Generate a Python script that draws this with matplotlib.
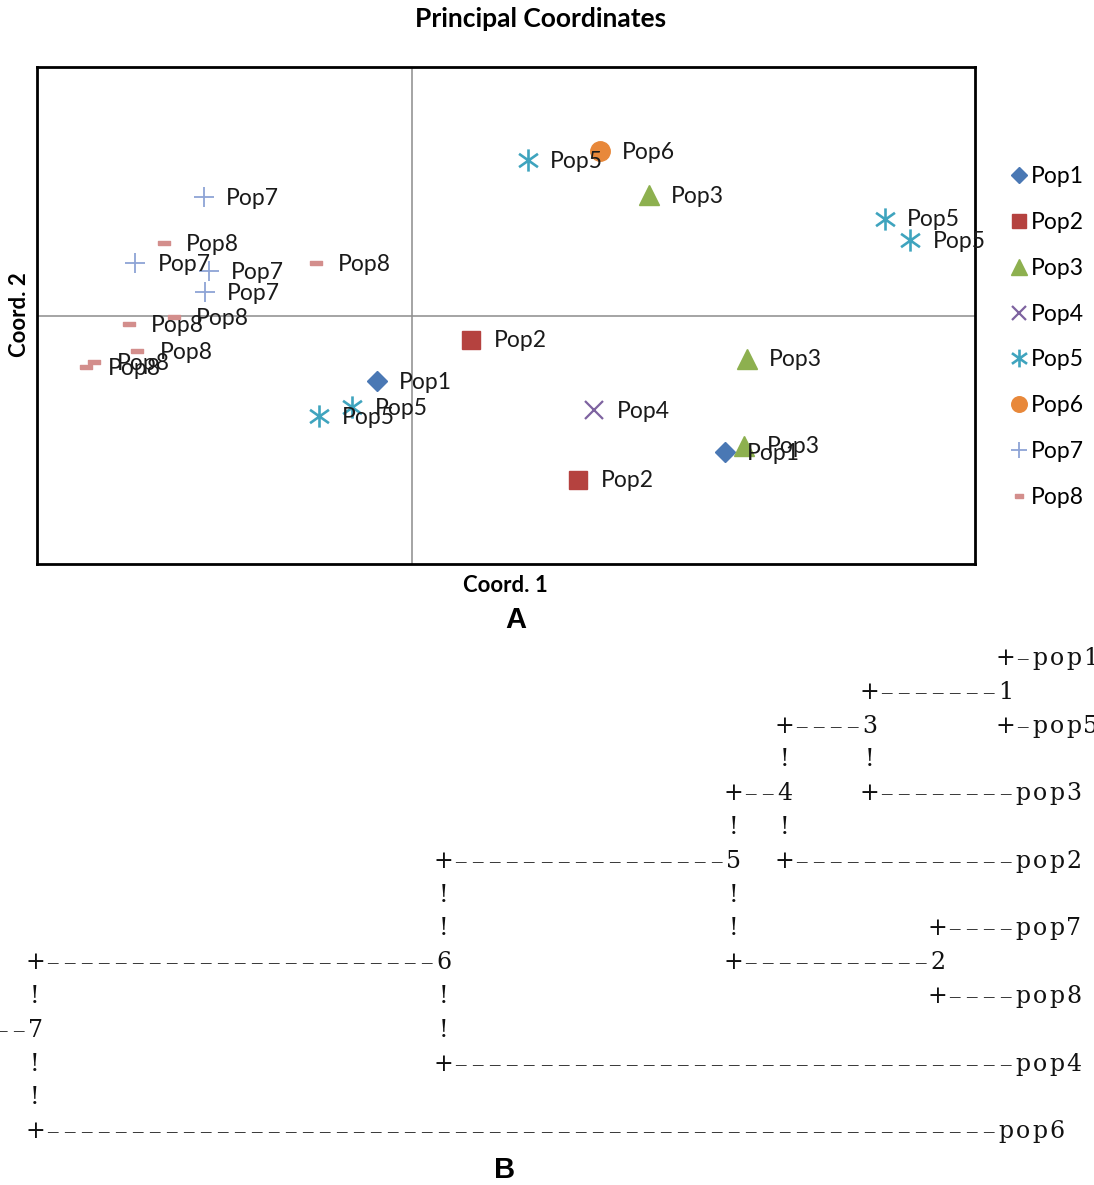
import numpy as np
import matplotlib
matplotlib.use("Agg")
import matplotlib.pyplot as plt
from matplotlib.path import Path
from matplotlib.lines import Line2D

# --- panel A data (principal coordinates) ---
pops = ["Pop1", "Pop2", "Pop3", "Pop4", "Pop5", "Pop6", "Pop7", "Pop8"]
pop1_x = [-0.038, 0.333]
pop1_y = [-0.079, -0.165]
pop2_x = [0.063, 0.177]
pop2_y = [-0.029, -0.198]
pop3_x = [0.252, 0.357, 0.354]
pop3_y = [0.145, -0.052, -0.157]
pop4_x = [0.194]
pop4_y = [-0.114]
pop5_x = [0.123, 0.504, 0.531, -0.064, -0.099]
pop5_y = [0.188, 0.117, 0.091, -0.110, -0.121]
pop6_x = [0.200]
pop6_y = [0.198]
pop7_x = [-0.222, -0.295, -0.217, -0.221]
pop7_y = [0.143, 0.063, 0.054, 0.028]
pop8_x = [-0.265, -0.103, -0.302, -0.254, -0.293, -0.339, -0.348]
pop8_y = [0.087, 0.063, -0.010, -0.002, -0.043, -0.056, -0.062]

# --- panel B data (ascii dendrogram: row, column, text) ---
tree_rows = [
    (0, 57, "+-pop1"),
    (1, 49, "+" + "-" * 7 + "1"),
    (2, 44, "+" + "-" * 4 + "3"), (2, 57, "+-pop5"),
    (3, 44, "!"), (3, 49, "!"),
    (4, 41, "+--4"), (4, 49, "+" + "-" * 8 + "pop3"),
    (5, 41, "!"), (5, 44, "!"),
    (6, 24, "+" + "-" * 16 + "5"), (6, 44, "+" + "-" * 13 + "pop2"),
    (7, 24, "!"), (7, 41, "!"),
    (8, 24, "!"), (8, 41, "!"), (8, 53, "+----pop7"),
    (9, 0, "+" + "-" * 23 + "6"), (9, 41, "+" + "-" * 11 + "2"),
    (10, 0, "!"), (10, 24, "!"), (10, 53, "+----pop8"),
    (11, -2, "--7"), (11, 24, "!"),
    (12, 0, "!"), (12, 24, "+" + "-" * 33 + "pop4"),
    (13, 0, "!"),
    (14, 0, "+" + "-" * 56 + "pop6"),
]

star = Path([(0, -1), (0, 1), (-0.85, -0.6), (0.85, 0.6), (-0.85, 0.6), (0.85, -0.6)],
            [Path.MOVETO, Path.LINETO, Path.MOVETO, Path.LINETO, Path.MOVETO, Path.LINETO])
dash = Path([(-1, -0.42), (1, -0.42), (1, 0.42), (-1, 0.42), (-1, -0.42)])

styles = [
    dict(marker="D", ms=10.5, color="#4A78B4", mec="#4A78B4"),
    dict(marker="s", ms=13, color="#B5423F", mec="#B5423F"),
    dict(marker="^", ms=14.5, color="#8DB04F", mec="#8DB04F"),
    dict(marker="x", ms=12.5, color="#7E63A0", mew=1.6),
    dict(marker=star, ms=16, color="#3FA4BE", mew=1.9),
    dict(marker="o", ms=14, color="#E8883A", mec="#E8883A"),
    dict(marker="+", ms=14, color="#8EA4D6", mew=1.3),
    dict(marker=dash, ms=8, color="#D38E8C", mec="#D38E8C"),
]

xs = [pop1_x, pop2_x, pop3_x, pop4_x, pop5_x, pop6_x, pop7_x, pop8_x]
ys = [pop1_y, pop2_y, pop3_y, pop4_y, pop5_y, pop6_y, pop7_y, pop8_y]

fig = plt.figure(figsize=(10.94, 11.85), dpi=100)
ax = fig.add_axes([37 / 1094, 1 - 564 / 1185, 938 / 1094, 497 / 1185])

handles = []
for name, x, y, st in zip(pops, xs, ys, styles):
    ax.plot(x, y, linestyle="none", zorder=3, **st)
    handles.append(Line2D([], [], linestyle="none", label=name, **st))

for name, x, y in zip(pops, xs, ys):
    for xi, yi in zip(x, y):
        ax.annotate(name, (xi, yi), xytext=(16, -1), textcoords="offset points",
                    va="center", ha="left", fontsize=16.5, family="Lato",
                    color="#1a1a1a", zorder=4)

ax.axvline(0, color="#8c8c8c", lw=1.1, zorder=1)
ax.axhline(0, color="#8c8c8c", lw=1.1, zorder=1)
ax.set_xlim(-0.4, 0.6)
ax.set_ylim(-0.3, 0.3)
ax.set_xticks([])
ax.set_yticks([])
for sp in ax.spines.values():
    sp.set_linewidth(2)
    sp.set_color("black")

fig.text(541 / 1094, 1 - 19 / 1185, "Principal Coordinates", ha="center", va="center",
         fontsize=19, fontweight="bold", family="Lato")
fig.text(505 / 1094, 1 - 585 / 1185, "Coord. 1", ha="center", va="center",
         fontsize=16, fontweight="bold", family="Lato")
fig.text(20 / 1094, 1 - 315 / 1185, "Coord. 2", ha="center", va="center", rotation=90,
         fontsize=16, fontweight="bold", family="Lato")
fig.text(516 / 1094, 1 - 620 / 1185, "A", ha="center", va="center",
         fontsize=21, fontweight="bold", family="Liberation Sans")
fig.text(505 / 1094, 1 - 1170 / 1185, "B", ha="center", va="center",
         fontsize=21, fontweight="bold", family="Liberation Sans")

leg = fig.legend(handles=handles, loc="upper left", bbox_to_anchor=(1000 / 1094, 1 - 155 / 1185),
                 frameon=False, handlelength=0.7, handletextpad=0.15, labelspacing=1.08,
                 borderpad=0, prop={"family": "Lato", "size": 16.5}, markerscale=0.8)

# --- panel B: ascii tree, one character per column ---
tx = fig.add_axes([0, 0, 1, 1], zorder=-1)
tx.set_xlim(0, 1094)
tx.set_ylim(1185, 0)
tx.axis("off")
col_w = 17.03
row_h = 33.8
for row, col, s in tree_rows:
    for k, ch in enumerate(s):
        if ch == " ":
            continue
        px = 35 + (col + k) * col_w
        py = 657 + row * row_h + 8
        if ch == "-":
            tx.text(px, py - 1, "\u2013", ha="center", va="baseline", fontsize=15,
                    family="Liberation Serif", color="#111111", clip_on=False)
        else:
            tx.text(px, py, ch, ha="center", va="baseline", fontsize=17,
                    family="DejaVu Serif", color="#111111", clip_on=False)

fig.savefig("out.png", dpi=100)
